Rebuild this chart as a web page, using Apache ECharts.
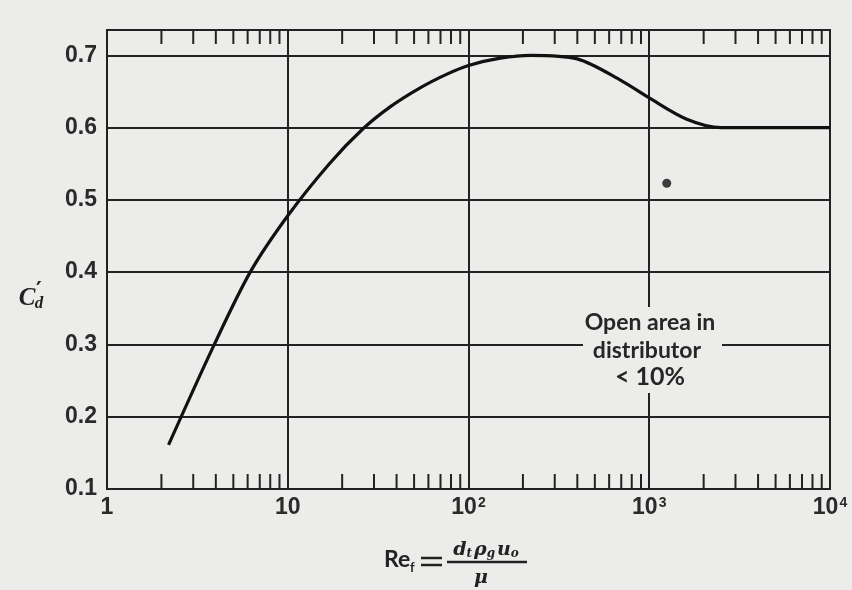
<!DOCTYPE html>
<html>
<head>
<meta charset="utf-8">
<script src="https://cdn.jsdelivr.net/npm/echarts@6/dist/echarts.min.js"></script>
<style>
html,body{margin:0;padding:0;background:#ececea;}
#chart{width:852px;height:590px;}
</style>
</head>
<body>
<div id="chart"></div>
<script>
// Curve: Re_f vs C'_d
var curveRe = [2.19, 3.89, 6.2, 10, 17, 26, 37, 54, 76, 100, 150, 220, 400, 700, 1000, 1600, 2500, 5000, 10000];
var curveCd = [0.161, 0.298, 0.4, 0.478, 0.55, 0.598, 0.629, 0.655, 0.674, 0.686, 0.696, 0.70, 0.695, 0.665, 0.641, 0.612, 0.600, 0.600, 0.600];
// Single data point
var pointRe = [1250];
var pointCd = [0.523];
// Axis ticks
var xMajorTicks = [1, 10, 100, 1000, 10000];
var xTickLabels = ['1', '10', '10{s|2}', '10{s|3}', '10{s|4}'];
var xMinorTicks = [2,3,4,5,6,7,8,9, 20,30,40,50,60,70,80,90, 200,300,400,500,600,700,800,900, 2000,3000,4000,5000,6000,7000,8000,9000];
var yTicks = [0.1, 0.2, 0.3, 0.4, 0.5, 0.6, 0.7];
var yTickLabels = ['0.1', '0.2', '0.3', '0.4', '0.5', '0.6', '0.7'];

var INK = '#222222';
var BG = '#ececea';
var curveData = curveRe.map(function (r, i) { return [r, curveCd[i]]; });
var pointData = pointRe.map(function (r, i) { return [r, pointCd[i]]; });

var chart = echarts.init(document.getElementById('chart'));
var yMin = 0.1, yMax = 0.735;
var labelFont = { fontFamily: 'Liberation Sans', fontWeight: 'bold', fontSize: 23, color: '#2a2a2a' };
chart.setOption({
  backgroundColor: BG,
  animation: false,
  grid: { left: 107, right: 22, top: 30, bottom: 101, show: true, borderColor: INK, borderWidth: 2, backgroundColor: 'transparent' },
  xAxis: {
    type: 'log', logBase: 10, min: 1, max: 10000,
    axisLine: { show: true, lineStyle: { color: INK, width: 2 } },
    axisTick: { show: false },
    minorTick: { show: false },
    splitLine: { show: true, lineStyle: { color: INK, width: 2 } },
    axisLabel: Object.assign({
      margin: 7,
      formatter: function (v) {
        var i = xMajorTicks.indexOf(Math.round(v));
        return i >= 0 ? xTickLabels[i] : '';
      },
      rich: {
        s: { fontFamily: 'Liberation Sans', fontWeight: 'bold', fontSize: 14, verticalAlign: 'top', padding: [0, 0, 10, 1], color: '#2a2a2a' }
      }
    }, labelFont)
  },
  yAxis: {
    type: 'value', min: yMin, max: yMax, interval: 0.1,
    axisLine: { show: true, lineStyle: { color: INK, width: 2 } },
    axisTick: { show: false },
    splitLine: { show: true, lineStyle: { color: INK, width: 2 } },
    axisLabel: Object.assign({
      margin: 10,
      formatter: function (v) {
        for (var i = 0; i < yTicks.length; i++) {
          if (Math.abs(yTicks[i] - v) < 1e-6) return yTickLabels[i];
        }
        return '';
      }
    }, labelFont)
  },
  series: [
    {
      type: 'custom',
      silent: true,
      data: xMinorTicks.map(function (v) { return [v]; }),
      encode: { x: 0 },
      renderItem: function (params, api) {
        var v = api.value(0);
        var b = api.coord([v, yMin]);
        var t = api.coord([v, yMax]);
        return {
          type: 'group',
          children: [
            { type: 'line', shape: { x1: b[0], y1: b[1], x2: b[0], y2: b[1] - 15 }, style: { stroke: INK, lineWidth: 2 } },
            { type: 'line', shape: { x1: t[0], y1: t[1], x2: t[0], y2: t[1] + 14 }, style: { stroke: INK, lineWidth: 2 } }
          ]
        };
      },
      z: 3
    },
    {
      type: 'line',
      data: curveData,
      smooth: 0.3,
      showSymbol: false,
      lineStyle: { color: '#111', width: 3.2 },
      z: 4
    },
    {
      type: 'scatter',
      data: pointData,
      symbol: 'circle',
      symbolSize: 9,
      itemStyle: { color: '#111' },
      z: 5
    }
  ],
  graphic: [
    {
      type: 'rect', z: 10,
      shape: { x: 583, y: 307, width: 139, height: 86 },
      style: { fill: BG }
    },
    {
      type: 'text', z: 11, x: 650, y: 323,
      style: { text: 'Open area in', fontFamily: 'Lato', fontWeight: 'bold', fontSize: 23, fill: '#262626', align: 'center', verticalAlign: 'middle' }
    },
    {
      type: 'text', z: 11, x: 647, y: 351,
      style: { text: 'distributor', fontFamily: 'Lato', fontWeight: 'bold', fontSize: 23, fill: '#262626', align: 'center', verticalAlign: 'middle' }
    },
    {
      type: 'text', z: 11, x: 650, y: 377,
      style: { text: '< 10%', fontFamily: 'Lato', fontWeight: 'bold', fontSize: 25, fill: '#262626', align: 'center', verticalAlign: 'middle' }
    },
    // y-axis name C'_d
    {
      type: 'text', z: 11, x: 27, y: 299,
      style: { text: 'C', fontFamily: 'Liberation Serif', fontStyle: 'italic', fontWeight: 'bold', fontSize: 25, fill: '#222', align: 'center', verticalAlign: 'middle' }
    },
    {
      type: 'text', z: 11, x: 39, y: 291,
      style: { text: '′', fontFamily: 'DejaVu Sans', fontWeight: 'bold', fontSize: 22, fill: '#222', align: 'center', verticalAlign: 'middle' }
    },
    {
      type: 'text', z: 11, x: 39, y: 304,
      style: { text: 'd', fontFamily: 'Liberation Serif', fontStyle: 'italic', fontWeight: 'bold', fontSize: 17, fill: '#222', align: 'center', verticalAlign: 'middle' }
    },
    // x-axis name Re_f = d_t rho_g u_o / mu
    {
      type: 'text', z: 11, x: 384, y: 560,
      style: { text: 'Re', fontFamily: 'Lato', fontWeight: 'bold', fontSize: 23, fill: '#222', align: 'left', verticalAlign: 'middle' }
    },
    {
      type: 'text', z: 11, x: 410, y: 568,
      style: { text: 'f', fontFamily: 'Lato', fontWeight: 'bold', fontSize: 13, fill: '#222', align: 'left', verticalAlign: 'middle' }
    },
    {
      type: 'line', z: 11,
      shape: { x1: 421, y1: 558, x2: 442, y2: 558 },
      style: { stroke: '#222', lineWidth: 2.5 }
    },
    {
      type: 'line', z: 11,
      shape: { x1: 421, y1: 565, x2: 442, y2: 565 },
      style: { stroke: '#222', lineWidth: 2.5 }
    },
    {
      type: 'text', z: 11, x: 487, y: 550,
      style: {
        text: '{v|d}{sub|t}{v|ρ}{sub|g}{v|u}{sub|o}',
        align: 'center', verticalAlign: 'middle',
        rich: {
          v: { fontFamily: 'DejaVu Serif', fontStyle: 'italic', fontWeight: 'bold', fontSize: 19, fill: '#222', verticalAlign: 'bottom' },
          sub: { fontFamily: 'DejaVu Serif', fontStyle: 'italic', fontWeight: 'bold', fontSize: 12, fill: '#222', verticalAlign: 'bottom', padding: [0, 2, 0, 0] }
        }
      }
    },
    {
      type: 'line', z: 11,
      shape: { x1: 447, y1: 562, x2: 527, y2: 562 },
      style: { stroke: '#222', lineWidth: 2.5 }
    },
    {
      type: 'text', z: 11, x: 481, y: 578,
      style: { text: 'μ', fontFamily: 'DejaVu Serif', fontStyle: 'italic', fontWeight: 'bold', fontSize: 19, fill: '#222', align: 'center', verticalAlign: 'middle' }
    }
  ]
});
</script>
</body>
</html>
